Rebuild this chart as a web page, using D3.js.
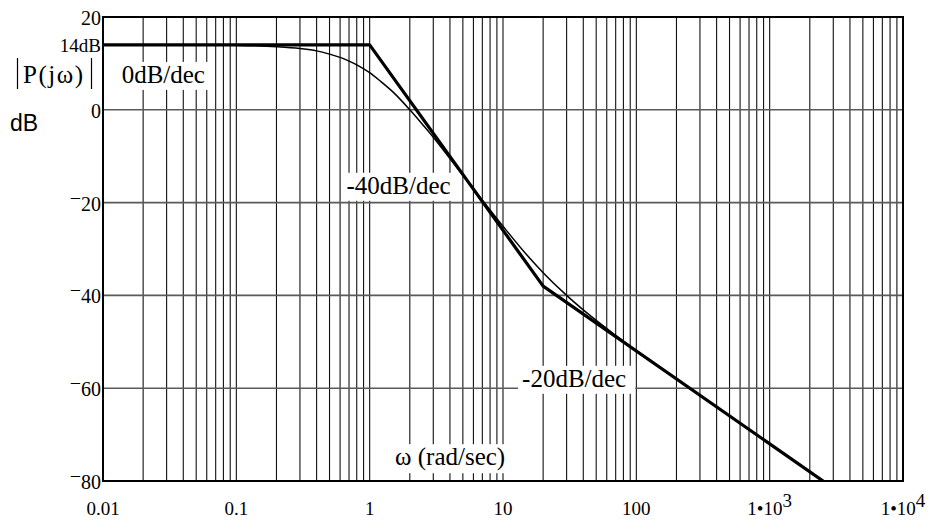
<!DOCTYPE html>
<html>
<head>
<meta charset="utf-8">
<script src="https://cdn.jsdelivr.net/npm/d3@7"></script>
<style>
  body { margin: 0; background: #fff; }
</style>
</head>
<body>
<div id="vis-bode"></div>
<script>
// tick values
const xTicks = [0.01, 0.1, 1, 10, 100, 1000, 10000]
const xTickLabels = ["0.01", "0.1", "1", "10", "100", "1•10|3", "1•10|4"]
const yGrid = [0, -20, -40, -60]
const yTicks = [20, 0, -20, -40, -60, -80]

// asymptotic (straight line) approximation
const asymW = [0.01, 1, 20, 10000]
const asymDB = [14, 14, -38, -92]

const magW = [0.01, 0.05, 0.1, 0.2, 0.3, 0.4, 0.5, 0.6, 0.7, 0.8, 1, 1.2, 1.5, 2, 2.5, 3, 4, 5, 7, 10, 15, 20, 30, 50, 70, 100, 200, 500, 1000, 2000, 3000]
const magDB = [14.0, 14.0, 13.9, 13.6, 13.2, 12.7, 12.0, 11.3, 10.5, 9.7, 8.0, 6.2, 3.8, 0.0, -3.2, -5.9, -10.5, -14.1, -19.5, -25.1, -31.2, -35.1, -40.0, -45.4, -48.6, -51.9, -58.0, -66.0, -72.0, -78.1, -81.6]

// slope labels
const slopeLabels = ["0dB/dec", "-40dB/dec", "-20dB/dec"]
const slopeLabelW = [0.0138, 0.67, 13.9]
const slopeLabelDB = [5.8, -18.1, -59.7]

;(function() {
    const width = 940
    const height = 520
    const left = 103, right = 903, top = 17, bottom = 481
    const serif = "'Liberation Serif', 'Times New Roman', 'DejaVu Serif', serif"

    const svg = d3.select("#vis-bode")
        .append("svg")
        .attr("width", width)
        .attr("height", height)
        .style("font-family", serif)

    const x = d3.scaleLog().domain([0.01, 10000]).range([left, right])
    const y = d3.scaleLinear().domain([-80, 20]).range([bottom, top])

    // minor + decade vertical grid
    let vLines = []
    for (let d = 0; d < xTicks.length - 1; d++) {
        for (let k = 2; k <= 10; k++) vLines.push(xTicks[d] * k)
    }
    vLines = vLines.filter(v => v < 10000 * 0.999)

    svg.append("g")
        .selectAll("line")
        .data(vLines)
        .join("line")
        .attr("x1", d => x(d)).attr("x2", d => x(d))
        .attr("y1", top).attr("y2", bottom)
        .attr("stroke", "#111")
        .attr("stroke-width", 1.1)

    svg.append("g")
        .selectAll("line")
        .data(yGrid)
        .join("line")
        .attr("x1", left).attr("x2", right)
        .attr("y1", d => y(d)).attr("y2", d => y(d))
        .attr("stroke", "#5a5a5a")
        .attr("stroke-width", 1.6)

    // white boxed labels inside the plot
    function boxedLabel(txt, px, py, padL) {
        const g = svg.append("g")
        const t = g.append("text")
            .attr("x", px).attr("y", py)
            .attr("font-family", serif)
            .attr("font-size", 25)
            .text(txt)
        const b = t.node().getBBox()
        g.insert("rect", "text")
            .attr("x", b.x - padL).attr("y", b.y + 1)
            .attr("width", b.width + padL + 9).attr("height", b.height + 1)
            .attr("fill", "#fff")
        return g
    }

    slopeLabels.forEach((s, i) => boxedLabel(s, x(slopeLabelW[i]), y(slopeLabelDB[i]), i == 0 ? 16 : 4))
    boxedLabel("ω (rad/sec)", x(1.55), y(-76.6), 23)

    // frame
    svg.append("rect")
        .attr("x", left).attr("y", top)
        .attr("width", right - left).attr("height", bottom - top)
        .attr("fill", "none")
        .attr("stroke", "#000")
        .attr("stroke-width", 2)

    // curves
    svg.append("clipPath").attr("id", "plot-clip")
        .append("rect")
        .attr("x", left).attr("y", top)
        .attr("width", right - left).attr("height", bottom - top)

    const line = d3.line()
        .x(d => x(d[0]))
        .y(d => y(d[1]))

    svg.append("path")
        .datum(magW.map((w, i) => [w, magDB[i]]))
        .attr("clip-path", "url(#plot-clip)")
        .attr("fill", "none")
        .attr("stroke", "#000")
        .attr("stroke-width", 1.5)
        .attr("d", line.curve(d3.curveMonotoneX))

    svg.append("path")
        .datum(asymW.map((w, i) => [w, asymDB[i]]))
        .attr("clip-path", "url(#plot-clip)")
        .attr("fill", "none")
        .attr("stroke", "#000")
        .attr("stroke-width", 3.2)
        .attr("stroke-linejoin", "round")
        .attr("d", line.curve(d3.curveLinear))

    // y tick labels (raised minus like Mathcad)
    svg.append("g")
        .selectAll("text")
        .data(yTicks)
        .join("text")
        .attr("x", left - 2)
        .attr("y", d => y(d) + 8)
        .attr("text-anchor", "end")
        .attr("font-family", serif)
        .attr("font-size", 20)
        .each(function(d) {
            const t = d3.select(this)
            if (d < 0) {
                t.append("tspan").attr("dy", -6).text("\u2212")
                t.append("tspan").attr("dy", 6).text(Math.abs(d))
            } else {
                t.text(d)
            }
        })

    svg.append("text")
        .attr("x", left - 2)
        .attr("y", y(14) + 7.5)
        .attr("text-anchor", "end")
        .attr("font-family", serif)
        .attr("font-size", 19)
        .text("14dB")

    // x tick labels
    svg.append("g")
        .selectAll("text")
        .data(xTicks)
        .join("text")
        .attr("x", d => x(d))
        .attr("y", bottom + 34)
        .attr("text-anchor", "middle")
        .attr("font-family", serif)
        .attr("font-size", 19)
        .each(function(d, i) {
            const parts = xTickLabels[i].split("|")
            const t = d3.select(this)
            t.append("tspan").text(parts[0])
            if (parts[1]) t.append("tspan").attr("dy", -8).text(parts[1])
        })

    // |P(jω)| and dB axis title
    svg.append("text")
        .attr("x", 23)
        .attr("y", 83)
        .attr("font-family", serif)
        .attr("font-size", 25)
        .attr("letter-spacing", 1.5)
        .text("P(jω)")
    ;[17.5, 91.5].forEach(bx => {
        svg.append("line")
            .attr("x1", bx).attr("x2", bx)
            .attr("y1", 58).attr("y2", 89)
            .attr("stroke", "#000")
            .attr("stroke-width", 1.2)
    })

    svg.append("text")
        .attr("x", 10)
        .attr("y", 131)
        .attr("font-size", 23)
        .attr("font-family", "'Liberation Sans', Arial, sans-serif")
        .text("dB")
})();
</script>
</body>
</html>
